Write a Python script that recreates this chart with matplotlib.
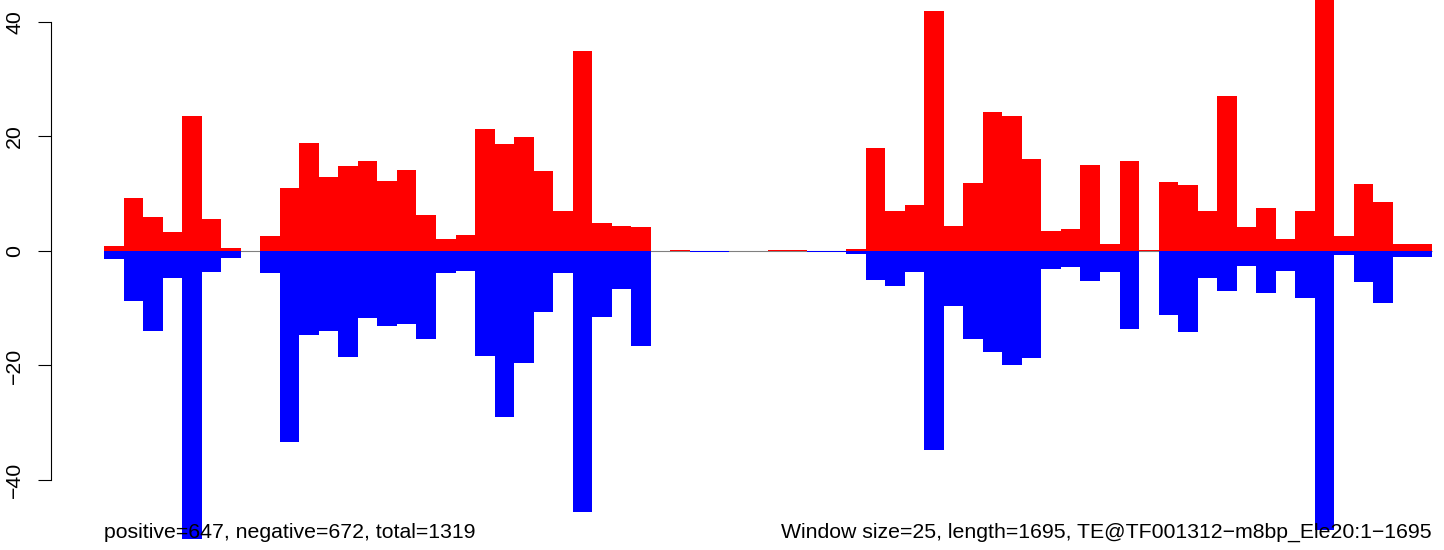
"""
Strand coverage per window (positive up, negative down).
"""
import matplotlib
matplotlib.use("Agg")
import matplotlib.pyplot as plt
import numpy as np

# per-window counts, window size 25 over length 1695 -> 68 windows
positive = [0.9, 9.3, 5.9, 3.4, 23.6, 5.6, 0.55, 0, 2.6, 11.0,
            18.9, 12.9, 14.9, 15.8, 12.3, 14.2, 6.3, 2.15, 2.8, 21.3,
            18.7, 19.9, 14.0, 7.0, 35.0, 4.9, 4.4, 4.2, 0, 0.25,
            0, 0, 0, 0, 0.25, 0.25, 0, 0, 0.4, 18.0,
            6.9, 8.1, 42.0, 4.4, 11.9, 24.3, 23.6, 16.1, 3.5, 3.9,
            15.1, 1.2, 15.8, 0.2, 12.1, 11.6, 7.0, 27.1, 4.2, 7.5,
            2.15, 6.9, 47.0, 2.6, 11.7, 8.6, 1.2, 1.2]
negative = [-1.35, -8.8, -13.9, -4.7, -50.3, -3.6, -1.2, 0, -3.8, -33.4,
            -14.65, -13.9, -18.6, -11.7, -13.1, -12.75, -15.3, -3.8, -3.5, -18.3,
            -29.0, -19.6, -10.7, -3.8, -45.6, -11.5, -6.6, -16.55, 0, 0,
            -0.25, -0.25, 0, 0, 0, 0, -0.25, -0.25, -0.5, -5.0,
            -6.1, -3.7, -34.7, -9.6, -15.3, -17.6, -20.0, -18.7, -3.1, -2.8,
            -5.3, -3.7, -13.7, 0, -11.1, -14.1, -4.7, -6.9, -2.6, -7.4,
            -3.5, -8.2, -48.7, -0.7, -5.5, -9.0, -1.0, -1.0]
yticks = [-40, -20, 0, 20, 40]

left_text = "positive=647, negative=672, total=1319"
right_text = "Window size=25, length=1695, TE@TF001312\u2212m8bp_Ele20:1\u22121695"

W, H = 1444, 550
FS = 15.3
plt.rcParams["font.family"] = ["Liberation Sans", "DejaVu Sans"]

fig = plt.figure(figsize=(W / 100, H / 100), dpi=100)
ax = fig.add_axes([51 / W, 0, 1 - 51 / W, 1])

x = np.arange(len(positive))
ax.hlines(0, 0, len(positive), color="gray", lw=0.8, zorder=0)
ax.bar(x, positive, width=1, align="edge", color="red", linewidth=0,
       antialiased=False, zorder=1)
ax.bar(x, negative, width=1, align="edge", color="blue", linewidth=0,
       antialiased=False, zorder=1)

# data <-> pixel mapping: bars span px 104..1432, y=0 at px 251, 5.725 px/unit
px_per_x = (1432 - 104) / len(positive)
ax.set_xlim(-(104 - 51) / px_per_x, len(positive) + (W - 1432) / px_per_x)
ax.set_ylim(-(H - 251) / 5.725, 251 / 5.725)

for s in ["top", "right", "bottom"]:
    ax.spines[s].set_visible(False)
ax.spines["left"].set_bounds(-40, 40)
ax.spines["left"].set_linewidth(0.8)
ax.set_xticks([])
ax.set_yticks(yticks)
ax.set_yticklabels([str(t).replace("-", "\u2212") for t in yticks],
                   rotation=90, va="center", fontsize=FS)
ax.tick_params(axis="y", length=9.4, width=0.8, pad=10)

fig.text(104 / W, (H - 538) / H, left_text, ha="left", va="baseline",
         fontsize=FS)
fig.text(1432 / W, (H - 538) / H, right_text, ha="right", va="baseline",
         fontsize=FS)

fig.savefig("out.png", dpi=100)
